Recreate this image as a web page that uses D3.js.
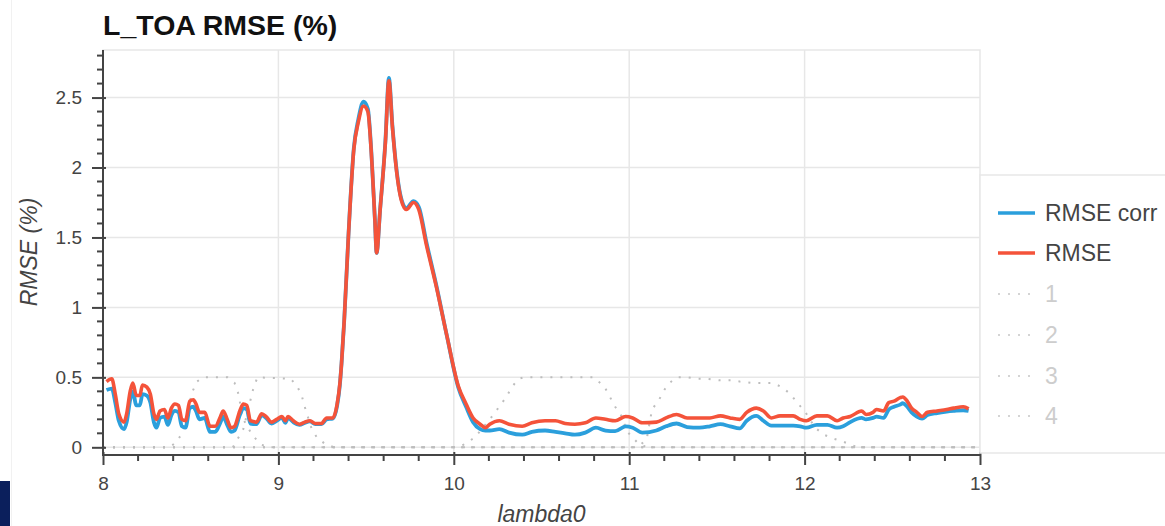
<!DOCTYPE html>
<html>
<head>
<meta charset="utf-8">
<script src="https://cdn.jsdelivr.net/npm/d3@7"></script>
<style>
  html, body { margin: 0; padding: 0; background: #fff; }
  svg { display: block; font-family: "Liberation Sans", Arial, sans-serif; }
</style>
</head>
<body>
<svg id="chart" width="1165" height="526"></svg>
<script>
// ---------------- data ----------------
const lambda = [8.02,8.05,8.07,8.09,8.12,8.135,8.155,8.17,8.19,8.21,8.225,8.25,8.27,8.29,8.305,8.325,8.35,8.37,8.39,8.41,8.43,8.45,8.47,8.495,8.515,8.53,8.55,8.58,8.61,8.64,8.67,8.685,8.705,8.73,8.75,8.78,8.80,8.82,8.84,8.875,8.905,8.93,8.96,8.99,9.02,9.04,9.055,9.085,9.12,9.15,9.18,9.21,9.245,9.275,9.31,9.335,9.35,9.36,9.375,9.40,9.43,9.455,9.485,9.51,9.53,9.55,9.56,9.58,9.61,9.63,9.65,9.675,9.70,9.73,9.77,9.80,9.845,9.90,9.96,10.025,10.07,10.11,10.15,10.18,10.205,10.26,10.315,10.39,10.445,10.52,10.58,10.635,10.69,10.75,10.81,10.865,10.92,10.98,11.02,11.075,11.155,11.21,11.27,11.33,11.40,11.46,11.52,11.575,11.63,11.67,11.725,11.765,11.81,11.86,11.935,11.975,12.01,12.07,12.13,12.185,12.22,12.26,12.325,12.35,12.39,12.41,12.45,12.48,12.51,12.545,12.56,12.585,12.61,12.64,12.67,12.70,12.755,12.81,12.85,12.905,12.935];
const rmse = [0.47,0.49,0.38,0.24,0.18,0.24,0.40,0.46,0.37,0.37,0.445,0.43,0.38,0.24,0.20,0.26,0.27,0.21,0.28,0.31,0.30,0.20,0.19,0.33,0.34,0.31,0.25,0.25,0.15,0.15,0.22,0.26,0.21,0.14,0.15,0.26,0.31,0.30,0.19,0.18,0.24,0.22,0.18,0.20,0.22,0.19,0.22,0.19,0.165,0.18,0.19,0.17,0.17,0.21,0.21,0.31,0.45,0.60,0.90,1.53,2.13,2.32,2.44,2.40,2.10,1.63,1.39,1.70,2.18,2.62,2.29,1.96,1.77,1.70,1.75,1.70,1.44,1.15,0.80,0.44,0.31,0.21,0.165,0.14,0.165,0.19,0.165,0.15,0.175,0.19,0.19,0.17,0.165,0.175,0.21,0.20,0.19,0.22,0.21,0.175,0.18,0.21,0.235,0.21,0.21,0.21,0.225,0.21,0.20,0.25,0.28,0.26,0.21,0.225,0.225,0.20,0.19,0.225,0.225,0.19,0.21,0.22,0.26,0.235,0.25,0.27,0.26,0.32,0.33,0.355,0.36,0.33,0.28,0.25,0.22,0.25,0.26,0.27,0.28,0.29,0.275];
const rmseCorr = [0.41,0.42,0.32,0.19,0.13,0.18,0.34,0.40,0.30,0.30,0.38,0.37,0.32,0.18,0.14,0.21,0.22,0.16,0.23,0.26,0.25,0.15,0.14,0.28,0.29,0.26,0.20,0.21,0.11,0.11,0.18,0.22,0.17,0.11,0.12,0.23,0.28,0.27,0.17,0.165,0.23,0.21,0.17,0.19,0.21,0.175,0.21,0.18,0.16,0.175,0.185,0.165,0.165,0.20,0.205,0.30,0.44,0.60,0.90,1.53,2.14,2.34,2.47,2.42,2.11,1.63,1.39,1.70,2.19,2.64,2.30,1.97,1.78,1.71,1.76,1.72,1.46,1.16,0.80,0.43,0.29,0.18,0.13,0.12,0.12,0.13,0.105,0.09,0.11,0.12,0.11,0.10,0.09,0.105,0.14,0.12,0.115,0.15,0.14,0.105,0.12,0.15,0.17,0.145,0.14,0.15,0.165,0.15,0.135,0.19,0.225,0.19,0.155,0.155,0.155,0.15,0.14,0.16,0.16,0.14,0.15,0.18,0.21,0.20,0.21,0.22,0.21,0.27,0.29,0.305,0.315,0.29,0.25,0.22,0.205,0.23,0.245,0.255,0.26,0.265,0.26];

// spectral response curves (dotted, grey)
const srf1 = [[8.0,0],[8.38,0],[8.42,0.04],[8.456,0.11],[8.507,0.39],[8.536,0.47],[8.57,0.5],[8.71,0.5],[8.75,0.46],[8.77,0.39],[8.80,0.20],[8.85,0.09],[8.90,0.02],[8.95,0],[13.0,0]];
const srf2 = [[8.0,0],[8.74,0],[8.80,0.13],[8.855,0.41],[8.88,0.5],[9.07,0.49],[9.11,0.43],[9.135,0.36],[9.15,0.29],[9.19,0.13],[9.22,0.07],[9.27,0.02],[9.32,0],[13.0,0]];
const srf3 = [[8.0,0],[10.03,0],[10.07,0.03],[10.12,0.07],[10.23,0.24],[10.27,0.31],[10.30,0.36],[10.33,0.43],[10.37,0.49],[10.40,0.5],[10.80,0.5],[10.86,0.43],[10.92,0.29],[10.95,0.24],[10.99,0.11],[11.05,0.03],[11.1,0],[13.0,0]];
const srf4 = [[8.0,0],[11.05,0],[11.10,0.06],[11.13,0.27],[11.17,0.34],[11.20,0.41],[11.23,0.46],[11.27,0.50],[11.33,0.50],[11.39,0.49],[11.44,0.49],[11.51,0.48],[11.58,0.48],[11.63,0.47],[11.70,0.46],[11.75,0.46],[11.82,0.46],[11.87,0.43],[11.92,0.38],[11.95,0.33],[12.0,0.26],[12.06,0.14],[12.11,0.09],[12.17,0.06],[12.22,0.04],[12.3,0],[13.0,0]];

const xTicks = [8, 9, 10, 11, 12, 13];
const xTickLabels = ["8", "9", "10", "11", "12", "13"];
const yTicks = [0, 0.5, 1, 1.5, 2, 2.5];
const yTickLabels = ["0", "0.5", "1", "1.5", "2", "2.5"];
const legendLabels = ["RMSE corr", "RMSE", "1", "2", "3", "4"];

// ---------------- layout ----------------
const svg = d3.select("#chart");
const x = d3.scaleLinear().domain([8, 13]).range([103, 980]);
const y = d3.scaleLinear().domain([-0.055, 2.84]).range([455, 50]);

const BLUE = "#2b9fdc";
const RED = "#f4533a";
const GRID = "#e7e7e7";
const SRF = "#bdbdbd";

// faint page edge line
svg.append("line").attr("x1", 11.5).attr("x2", 11.5).attr("y1", 0).attr("y2", 526)
  .attr("stroke", "#f1f1f1").attr("stroke-width", 1);

// grid
svg.append("g").selectAll("line").data(xTicks.slice(1, -1)).join("line")
  .attr("x1", d => x(d)).attr("x2", d => x(d)).attr("y1", 50).attr("y2", 455)
  .attr("stroke", GRID).attr("stroke-width", 1.5);
svg.append("g").selectAll("line").data(yTicks).join("line")
  .attr("x1", 103).attr("x2", 980).attr("y1", d => y(d)).attr("y2", d => y(d))
  .attr("stroke", GRID).attr("stroke-width", 1.5);

// plot outline
svg.append("rect").attr("x", 103).attr("y", 50).attr("width", 877).attr("height", 405)
  .attr("fill", "none").attr("stroke", GRID).attr("stroke-width", 1.5);

// SRF dotted curves
const line2 = d3.line().x(d => x(d[0])).y(d => y(d[1]));
[srf1, srf2, srf3, srf4].forEach(s => {
  svg.append("path").attr("d", line2(s)).attr("fill", "none")
    .attr("stroke", SRF).attr("stroke-width", 2).attr("stroke-dasharray", "2,8");
});

// data lines
const line = d3.line().curve(d3.curveMonotoneX).x((d, i) => x(lambda[i])).y(d => y(d));
svg.append("path").attr("d", line(rmseCorr)).attr("fill", "none")
  .attr("stroke", BLUE).attr("stroke-width", 3.8).attr("stroke-linejoin", "round");
svg.append("path").attr("d", line(rmse)).attr("fill", "none")
  .attr("stroke", RED).attr("stroke-width", 3.6).attr("stroke-linejoin", "round");

// axes
const AX = "#444";
const yAxis = d3.axisLeft(y).tickValues(yTicks).tickFormat((d, i) => yTickLabels[i])
  .tickSizeInner(11).tickSizeOuter(0).tickPadding(10);
const gy = svg.append("g").attr("transform", "translate(103,0)").call(yAxis);
gy.select(".domain").attr("stroke", AX).attr("stroke-width", 2).attr("d", "M0,50V455");
gy.selectAll(".tick line").attr("x1", 3).attr("stroke", AX).attr("stroke-width", 2);
gy.selectAll(".tick text").attr("font-size", 19).attr("fill", "#444")
  .attr("font-family", "Liberation Sans, Arial, sans-serif");
const yMinor = d3.range(1, 29).map(v => v / 10).filter(v => Math.round(v * 10) % 5 !== 0);
svg.append("g").selectAll("line").data(yMinor).join("line")
  .attr("x1", 97).attr("x2", 104).attr("y1", d => y(d)).attr("y2", d => y(d))
  .attr("stroke", AX).attr("stroke-width", 2);

const xAxis = d3.axisBottom(x).tickValues(xTicks).tickFormat((d, i) => xTickLabels[i])
  .tickSizeInner(10).tickSizeOuter(0).tickPadding(11.5);
const gx = svg.append("g").attr("transform", "translate(0,455)").call(xAxis);
gx.select(".domain").attr("stroke", AX).attr("stroke-width", 2).attr("d", "M102,0H981");
gx.selectAll(".tick line").attr("y1", -3).attr("stroke", AX).attr("stroke-width", 2);
gx.selectAll(".tick text").attr("font-size", 19).attr("fill", "#444")
  .attr("font-family", "Liberation Sans, Arial, sans-serif");
const xMinor = d3.range(41, 65).map(v => v / 5).filter(v => Math.round(v * 5) % 5 !== 0);
svg.append("g").selectAll("line").data(xMinor).join("line")
  .attr("x1", d => x(d)).attr("x2", d => x(d)).attr("y1", 455).attr("y2", 461)
  .attr("stroke", AX).attr("stroke-width", 2);

// axis labels
svg.append("text").attr("x", 541.5).attr("y", 522).attr("text-anchor", "middle")
  .attr("font-size", 23).attr("font-style", "italic").attr("fill", "#444").text("lambda0");
svg.append("text").attr("transform", "translate(37,252) rotate(-90)").attr("text-anchor", "middle")
  .attr("font-size", 23).attr("font-style", "italic").attr("fill", "#444").text("RMSE (%)");

// title
svg.append("text").attr("x", 103).attr("y", 35).attr("font-size", 28.5).attr("font-weight", "bold")
  .attr("fill", "#111").text("L_TOA RMSE (%)");

// legend
svg.append("rect").attr("x", 980).attr("y", 175).attr("width", 200).attr("height", 278)
  .attr("fill", "#fff").attr("stroke", GRID).attr("stroke-width", 1.5);
const legY = [213, 253, 294, 335, 376, 416];
const legStroke = [BLUE, RED, "#d4d4d4", "#d4d4d4", "#d4d4d4", "#d4d4d4"];
const leg = svg.append("g").selectAll("g").data(legendLabels).join("g")
  .attr("transform", (d, i) => `translate(0,${legY[i]})`);
leg.append("line").attr("x1", 998).attr("x2", 1035).attr("y1", 0).attr("y2", 0)
  .attr("stroke", (d, i) => legStroke[i]).attr("stroke-width", (d, i) => i < 2 ? 3.6 : 2)
  .attr("stroke-dasharray", (d, i) => i < 2 ? null : "2,8");
leg.append("text").attr("x", 1045).attr("y", 8).attr("font-size", 23)
  .attr("fill", (d, i) => i < 2 ? "#444" : "#cdcdcd").text(d => d);

// navy block bottom-left
svg.append("rect").attr("x", 0).attr("y", 481).attr("width", 10).attr("height", 45).attr("fill", "#0b1f5c");
</script>
</body>
</html>
